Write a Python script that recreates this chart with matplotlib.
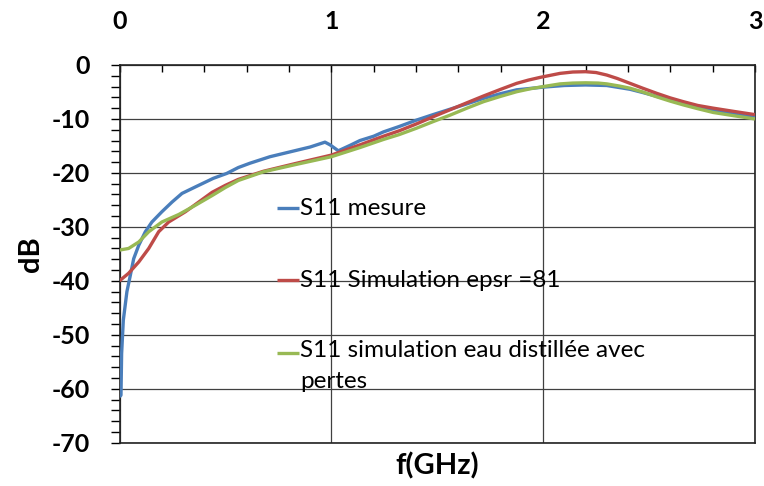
import matplotlib
matplotlib.use("Agg")
import matplotlib.pyplot as plt
from matplotlib.lines import Line2D
from matplotlib.ticker import MultipleLocator, FixedLocator

plt.rcParams['font.family'] = ['Lato', 'DejaVu Sans']

# S11 measured
f_mes = [0.0, 0.007, 0.01, 0.018, 0.035, 0.051, 0.067, 0.091, 0.122, 0.153, 0.2, 0.248,
         0.295, 0.358, 0.443, 0.506, 0.561, 0.616, 0.71, 0.805, 0.9, 0.97, 0.994, 1.033,
         1.088, 1.135, 1.2, 1.246, 1.32, 1.403, 1.48, 1.56, 1.64, 1.718, 1.8, 1.875, 2.0,
         2.1, 2.2, 2.3, 2.41, 2.47, 2.536, 2.6, 2.662, 2.73, 2.803, 2.9, 3.0]
s_mes = [-61.5, -61.2, -53.5, -47.3, -42.0, -39.0, -35.9, -33.4, -30.9, -29.1, -27.2, -25.4,
         -23.8, -22.6, -21.0, -20.1, -19.0, -18.2, -17.0, -16.1, -15.2, -14.3, -14.8, -15.9,
         -14.9, -14.0, -13.2, -12.4, -11.4, -10.2, -9.2, -8.2, -7.2, -6.2, -5.3, -4.6, -4.1,
         -3.8, -3.7, -3.8, -4.5, -5.1, -5.8, -6.5, -7.1, -7.8, -8.4, -9.1, -9.7]

# S11 simulation epsr = 81
f_sim = [0.0, 0.043, 0.091, 0.138, 0.185, 0.232, 0.311, 0.437, 0.5, 0.561, 0.679, 0.837, 1.0,
         1.135, 1.246, 1.32, 1.403, 1.48, 1.56, 1.64, 1.718, 1.8, 1.875, 1.93, 1.985, 2.08,
         2.14, 2.2, 2.25, 2.3, 2.35, 2.41, 2.47, 2.536, 2.6, 2.662, 2.73, 2.803, 2.9, 3.0]
s_sim = [-40.0, -38.6, -36.5, -34.0, -30.9, -29.1, -27.2, -23.6, -22.3, -21.2, -19.7, -18.2,
         -16.7, -14.8, -13.2, -12.2, -10.9, -9.6, -8.3, -7.0, -5.75, -4.5, -3.4, -2.8, -2.3,
         -1.55, -1.3, -1.24, -1.4, -1.86, -2.5, -3.4, -4.3, -5.25, -6.1, -6.8, -7.5, -8.0,
         -8.6, -9.2]

# S11 simulation eau distillee avec pertes
f_eau = [0.0, 0.043, 0.091, 0.138, 0.2, 0.28, 0.358, 0.437, 0.5, 0.561, 0.679, 0.837, 1.0,
         1.135, 1.246, 1.32, 1.403, 1.48, 1.56, 1.64, 1.718, 1.8, 1.875, 1.94, 2.0, 2.08,
         2.14, 2.2, 2.26, 2.3, 2.36, 2.41, 2.47, 2.536, 2.6, 2.662, 2.73, 2.803, 2.9, 3.0]
s_eau = [-34.3, -34.0, -32.8, -30.9, -29.1, -27.7, -26.0, -24.2, -22.7, -21.4, -19.8, -18.4,
         -17.0, -15.3, -13.8, -12.9, -11.7, -10.5, -9.3, -8.0, -6.8, -5.8, -4.95, -4.4, -4.0,
         -3.5, -3.35, -3.3, -3.35, -3.5, -3.9, -4.3, -5.0, -5.9, -6.7, -7.4, -8.1, -8.8,
         -9.4, -10.0]

labels = ["S11 mesure", "S11 Simulation epsr =81",
          "S11 simulation eau distillée avec\npertes"]
colors = ['#4A7EBB', '#BE4B48', '#98B954']
x_ticks = [0, 1, 2, 3]
y_ticks = [0, -10, -20, -30, -40, -50, -60, -70]

W, H = 764, 486
fig = plt.figure(figsize=(W / 100, H / 100), dpi=100)
ax = fig.add_axes([119.5 / W, 1 - 442.7 / H, (755 - 119.5) / W, (442.7 - 65) / H])

series = [(f_mes, s_mes), (f_sim, s_sim), (f_eau, s_eau)]
for i, (fx, sy) in enumerate(series):
    ax.plot(fx, sy, color=colors[i], lw=2.4, zorder=3 + i, solid_capstyle='butt')

ax.set_xlim(0, 3)
ax.set_ylim(-70, 0)
ax.xaxis.tick_top()
ax.xaxis.set_label_position('bottom')
ax.xaxis.set_major_locator(FixedLocator(x_ticks))
ax.xaxis.set_minor_locator(MultipleLocator(0.2))
ax.yaxis.set_major_locator(FixedLocator(y_ticks))
ax.yaxis.set_minor_locator(MultipleLocator(2))
ax.set_xticklabels([str(v) for v in x_ticks])
ax.set_yticklabels([str(v) for v in y_ticks])

ax.tick_params(axis='x', which='major', direction='in', length=5, width=1, pad=23,
               labelsize=18, top=True, bottom=False)
ax.tick_params(axis='x', which='minor', direction='in', length=5, width=1, top=True, bottom=False)
ax.tick_params(axis='y', which='both', direction='out', length=6.5, width=1, pad=14.5,
               labelsize=18)
for lab in ax.get_xticklabels() + ax.get_yticklabels():
    lab.set_fontweight('bold')

ax.grid(True, which='major', color='#404040', lw=0.9)
ax.set_axisbelow(True)
for sp in ax.spines.values():
    sp.set_linewidth(1.2)
    sp.set_color('#222222')

ax.set_xlabel('f(GHz)', fontsize=21, fontweight='bold', labelpad=7)
ax.set_ylabel('dB', fontsize=21, fontweight='bold', labelpad=6)

# legend (no frame) placed inside the plot area
leg_y = [208, 280, 353]
for i, lab in enumerate(labels):
    y = 1 - leg_y[i] / H
    fig.add_artist(Line2D([277 / W, 299 / W], [y, y], transform=fig.transFigure,
                          color=colors[i], lw=2.4, solid_capstyle='butt'))
    if '\n' in lab:
        fig.text(300 / W, 1 - (leg_y[i] - 13) / H, lab, fontsize=17.5, va='top', ha='left',
                 linespacing=1.6)
    else:
        fig.text(300 / W, y, lab, fontsize=17.5, va='center', ha='left')

fig.savefig('out.png', dpi=100)
